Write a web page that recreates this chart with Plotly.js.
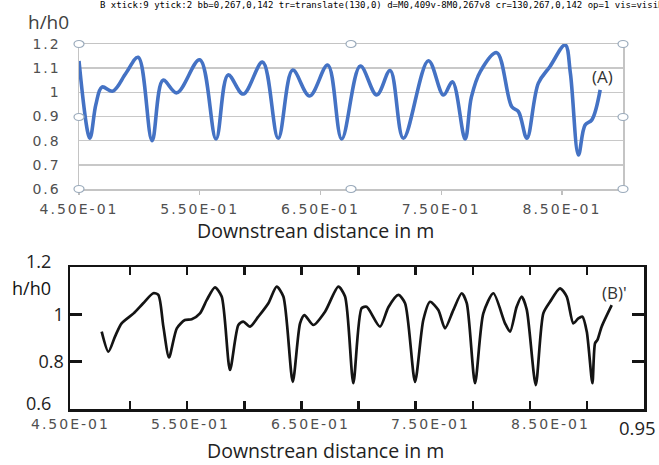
<!DOCTYPE html>
<html>
<head>
<meta charset="utf-8">
<script src="https://cdn.plot.ly/plotly-3.0.1.min.js"></script>
<style>
html,body{margin:0;padding:0;background:#fff;}
.chart{position:absolute;left:0;top:0;width:659px;height:465px;}
#dbg{position:absolute;left:100px;top:0;font:9px monospace;white-space:pre;color:#000;z-index:10;}
#chartA .xtick text, #chartA .ytick text,
#chartB .annotation[data-index="0"] text, #chartB .annotation[data-index="1"] text,
#chartB .annotation[data-index="2"] text, #chartB .annotation[data-index="3"] text,
#chartB .annotation[data-index="4"] text { letter-spacing: 2px; }
</style>
</head>
<body>
<div id="chartB" class="chart"></div>
<div id="chartA" class="chart"></div>
<div id="dbg"></div>
<script>
const xA = [0.450, 0.459, 0.464, 0.469, 0.478, 0.489, 0.499, 0.5105, 0.5196, 0.531,
            0.550, 0.5635, 0.5735, 0.586, 0.602, 0.615, 0.627, 0.641, 0.656, 0.6676,
            0.683, 0.6966, 0.7077, 0.7187, 0.7394, 0.7519, 0.7593, 0.7698, 0.775, 0.7824,
            0.796, 0.8085, 0.814, 0.821, 0.8305, 0.840, 0.8527, 0.857, 0.8637, 0.8692,
            0.8748, 0.8817];
const yA = [1.13, 0.81, 0.95, 1.022, 1.005, 1.08, 1.145, 0.80, 1.05, 0.998,
            1.135, 0.807, 1.072, 0.993, 1.125, 0.81, 1.092, 0.985, 1.113, 0.807,
            1.109, 0.989, 1.09, 0.81, 1.131, 0.989, 1.044, 0.807, 0.98, 1.086,
            1.164, 0.94, 0.92, 0.81, 1.038, 1.106, 1.196, 1.08, 0.741, 0.865,
            0.886, 1.01];
const xB = [0.4764, 0.482, 0.4875, 0.493, 0.503, 0.511, 0.5194, 0.5236, 0.5278, 0.5325,
            0.539, 0.5458, 0.5514, 0.5583, 0.564, 0.5708, 0.5764, 0.5833, 0.5903, 0.5944,
            0.600, 0.6069, 0.6153, 0.6222, 0.6278, 0.6356, 0.6417, 0.6453, 0.6528, 0.6625,
            0.6736, 0.6792, 0.6861, 0.693, 0.6972, 0.7083, 0.7153, 0.7236, 0.7292, 0.7375,
            0.7444, 0.750, 0.7569, 0.7625, 0.7694, 0.7764, 0.7806, 0.7875, 0.7944, 0.8028,
            0.8125, 0.8167, 0.8222, 0.8264, 0.8306, 0.8381, 0.8444, 0.850, 0.8583, 0.8639,
            0.8694, 0.8736, 0.877, 0.8806, 0.8853, 0.8875, 0.8895, 0.893, 0.9014];
const yB = [0.927, 0.842, 0.906, 0.962, 1.004, 1.047, 1.089, 1.082, 0.948, 0.818,
            0.941, 0.976, 0.979, 1.004, 1.061, 1.114, 1.075, 0.765, 0.955, 0.969,
            0.948, 0.99, 1.047, 1.117, 1.075, 0.715, 0.962, 0.997, 0.955, 1.011,
            1.117, 1.075, 0.709, 1.026, 1.032, 0.948, 1.03, 1.082, 1.047, 0.715,
            0.976, 1.053, 1.018, 0.941, 1.018, 1.089, 1.047, 0.709, 1.004, 1.089,
            0.962, 0.927, 1.032, 1.075, 1.02, 0.701, 1.004, 1.053, 1.11, 1.075,
            0.962, 0.983, 0.99, 0.927, 0.709, 0.878, 0.892, 0.948, 1.039];

const xTickVals = [0.45, 0.55, 0.65, 0.75, 0.85];
const xTickText = ['4.50E-01', '5.50E-01', '6.50E-01', '7.50E-01', '8.50E-01'];
const xFrameTicksB = [0.5, 0.5476, 0.5952, 0.6428, 0.6904, 0.738, 0.7856, 0.8332, 0.8808];
const yTickValsB = [0.6, 0.8, 1.0, 1.2];
const yTickTextB = ['', '0.8', '1', ''];
const yEdgeLabelsB = [0.6, 1.2];
const xRangeB = [0.45, 0.9283];
const yRangeB = [0.6, 1.2];

const W = 659, H = 465;
const px = v => v / W;
const py = v => 1 - v / H;
const tickFontA = {family: 'DejaVu Sans', size: 14, color: '#505050'};
const frameCol = '#141414';
const annFont = {family: 'Open Sans', size: 19.5, color: '#222'};
const ann = (text, x, y, font) => ({
  text: text, xref: 'paper', yref: 'paper', x: px(x), y: py(y),
  xanchor: 'center', yanchor: 'middle', showarrow: false, font: font || annFont
});
const yLabFontB = {family: 'Open Sans', size: 18, color: '#222'};

const handles = [[79,44],[79,117],[79,189],[351,44],[351,189],[623,44],[623,117],[623,189]].map(p => ({
  type: 'circle', xref: 'paper', yref: 'paper', xsizemode: 'pixel', ysizemode: 'pixel',
  xanchor: px(p[0]), yanchor: py(p[1]), x0: -5, x1: 5, y0: -3.5, y1: 3.5,
  fillcolor: '#ffffff', line: {color: '#9aaabb', width: 1.2}
}));

const layoutA = {
  width: W, height: H, margin: {l: 0, r: 0, t: 0, b: 0},
  paper_bgcolor: 'rgba(0,0,0,0)', plot_bgcolor: 'rgba(0,0,0,0)', showlegend: false,
  xaxis: {domain: [px(79), px(623)], range: [0.45, 0.9006], tickvals: xTickVals, ticktext: xTickText,
    ticks: 'outside', ticklen: 4, tickwidth: 1.2, tickcolor: '#bfbfbf',
    showline: true, linecolor: '#c4c4c4', linewidth: 1.5, mirror: true,
    showgrid: false, zeroline: false, tickfont: tickFontA, ticklabelstandoff: 3},
  yaxis: {domain: [py(189), py(44)], range: [0.6, 1.2], tick0: 0.6, dtick: 0.1, ticks: '',
    showgrid: true, gridcolor: '#c8c8c8', gridwidth: 1.5,
    showline: true, linecolor: '#c4c4c4', linewidth: 1.5, mirror: true,
    zeroline: false, tickfont: tickFontA, ticklabelstandoff: 14},
  shapes: handles,
  annotations: [
    ann('h/h0', 48, 22, {family: 'Open Sans', size: 19, color: '#404040'}),
    ann('Downstrean distance in m', 315, 230),
    ann('(A)', 602, 76, {family: 'Open Sans', size: 17, color: '#333'})
  ]
};

const layoutB = {
  width: W, height: H, margin: {l: 0, r: 0, t: 0, b: 0},
  paper_bgcolor: '#ffffff', plot_bgcolor: '#ffffff', showlegend: false,
  xaxis: {domain: [px(70), px(644)], anchor: 'y', range: xRangeB,
    tickmode: 'array', tickvals: xFrameTicksB, ticks: 'inside', ticklen: 8, tickwidth: 2.5, tickcolor: frameCol,
    showticklabels: false, showline: true, linecolor: frameCol, linewidth: 2.5, mirror: 'ticks',
    showgrid: false, zeroline: false},
  yaxis: {domain: [py(409), py(267)], anchor: 'x', range: yRangeB,
    tickvals: yTickValsB, ticktext: yTickTextB,
    ticks: 'inside', ticklen: 12, tickwidth: 2.5, tickcolor: frameCol,
    showline: true, linecolor: frameCol, linewidth: 2.5, mirror: 'ticks',
    showgrid: false, zeroline: false, tickfont: yLabFontB},
  annotations: xTickVals.map((v, i) => ({
      text: xTickText[i], xref: 'x', yref: 'paper', x: v, y: py(424),
      xanchor: 'center', yanchor: 'middle', showarrow: false, font: tickFontA
    })).concat([
    ann('h/h0', 31, 288, {family: 'Open Sans', size: 18, color: '#111'}),
    ann("(B)'", 614, 292, {family: 'Open Sans', size: 17, color: '#333'}),
    ann('0.95', 637, 427, {family: 'Open Sans', size: 18.5, color: '#222'}),
    ann('Downstrean distance in m', 325, 450)
  ]).concat(yEdgeLabelsB.map(v => ({
    text: String(v), xref: 'paper', yref: 'y', x: px(53), y: v,
    xanchor: 'right', yanchor: 'middle', yshift: 6, showarrow: false, font: yLabFontB
  })))
};

const tracesB = [{x: xB, y: yB, type: 'scatter', mode: 'lines',
   line: {color: '#141414', width: 2.7, shape: 'spline', smoothing: 0.7}, showlegend: false}];
const tracesA = [{x: xA, y: yA, type: 'scatter', mode: 'lines',
   line: {color: '#4472c4', width: 3.6, shape: 'spline', smoothing: 1}, showlegend: false}];

Plotly.newPlot('chartB', tracesB, layoutB, {staticPlot: true}).then(function () {
  return Plotly.newPlot('chartA', tracesA, layoutA, {staticPlot: true});
}).then(function () {
  const q = s => document.querySelectorAll(s);
  const t = q('#chartB path.xtick');
  const yt = q('#chartB path.ytick');
  let s = 'B xtick:' + t.length + ' ytick:' + yt.length;
  if (t[0]) { const b = t[0].getBBox(); s += ' bb=' + [b.x,b.y,b.width,b.height].map(Math.round).join(',') + ' tr=' + t[0].getAttribute('transform') + ' d=' + t[0].getAttribute('d'); }
  if (t[0]) { const r = t[0].getBoundingClientRect(); s += ' cr=' + [r.x,r.y,r.width,r.height].map(Math.round).join(','); s += ' op=' + getComputedStyle(t[0]).opacity + ' vis=' + getComputedStyle(t[0]).visibility + ' disp=' + getComputedStyle(t[0]).display; }
  document.getElementById('dbg').textContent = s;
}).catch(function (e) { document.getElementById('dbg').textContent = 'ERR ' + e; });
</script>
</body>
</html>
